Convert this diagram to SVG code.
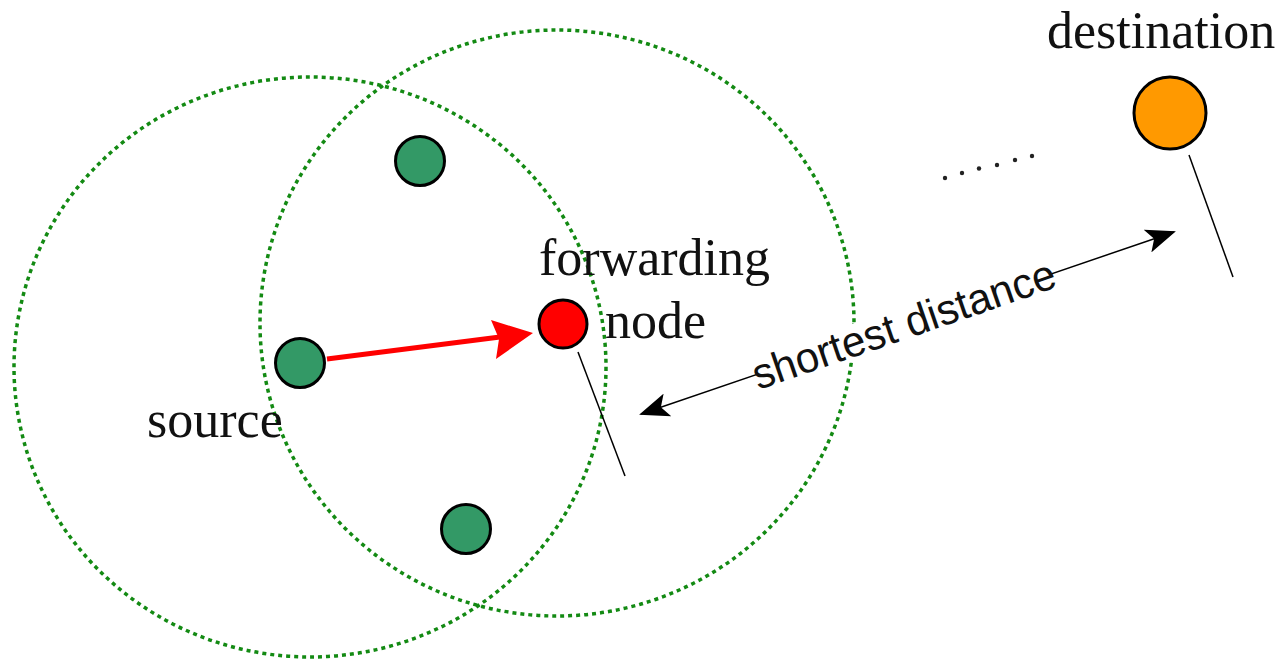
<svg xmlns="http://www.w3.org/2000/svg" width="1287" height="660" viewBox="0 0 1287 660">
<style>
.range{fill:none;stroke:#138a13;stroke-width:3.5;stroke-dasharray:4 4}
.node{stroke:#000;stroke-width:3}
.green{fill:#339966}
.lbl{font-family:"Liberation Serif","Times New Roman",serif;font-size:52px;fill:#111}
.thin{stroke:#000;stroke-width:1.5;fill:none}
</style>
<defs>
<marker id="blk" viewBox="0 0 30 24" refX="28" refY="12" markerWidth="30" markerHeight="24" markerUnits="userSpaceOnUse" orient="auto-start-reverse">
<path d="M0,0 L30,12 L0,24 L7,12 Z" fill="#000"/>
</marker>
</defs>
<rect width="1287" height="660" fill="#fff"/>
<g id="ranges">
<ellipse class="range" cx="310" cy="367" rx="296" ry="290"/>
<ellipse class="range" cx="557" cy="323" rx="297" ry="293"/>
</g>
<g id="connectors">
<line x1="327" y1="359" x2="500" y2="337" stroke="#f00" stroke-width="5"/>
<path d="M533,333 L491,320 L499,339 L496,359 Z" fill="#f00"/>
<line class="thin" x1="578" y1="352" x2="625" y2="476"/>
<line class="thin" x1="1189" y1="155" x2="1233" y2="277"/>
<line x1="641" y1="414" x2="1174" y2="232" stroke="#000" stroke-width="1.5" marker-start="url(#blk)" marker-end="url(#blk)"/>
<g transform="rotate(-19 904 325)">
<rect x="748" y="307" width="312" height="36" fill="#fff"/>
<text x="904" y="339" text-anchor="middle" font-family="'Liberation Sans',Arial,sans-serif" font-size="43" textLength="318" lengthAdjust="spacingAndGlyphs" fill="#111">shortest distance</text>
</g>
</g>
<g id="dots" fill="#222">
<circle cx="945" cy="178" r="2.2"/>
<circle cx="962" cy="173" r="2.2"/>
<circle cx="979" cy="168.5" r="2.2"/>
<circle cx="997" cy="165" r="2.2"/>
<circle cx="1015" cy="160" r="2.2"/>
<circle cx="1032" cy="156" r="2.2"/>
</g>
<g id="node-top"><circle class="node green" cx="420" cy="161" r="24.5"/></g>
<g id="node-source"><circle class="node green" cx="300" cy="363" r="24.5"/><text class="lbl" x="147" y="437">source</text></g>
<g id="node-bottom"><circle class="node green" cx="466" cy="529" r="24.5"/></g>
<g id="node-forwarding"><circle class="node" fill="#f00" cx="563" cy="324" r="24"/><text class="lbl" x="539" y="275">forwarding</text><text class="lbl" x="605" y="338">node</text></g>
<g id="node-destination"><circle class="node" fill="#ff9900" cx="1170" cy="113" r="36"/><text class="lbl" x="1047" y="48">destination</text></g>
</svg>
